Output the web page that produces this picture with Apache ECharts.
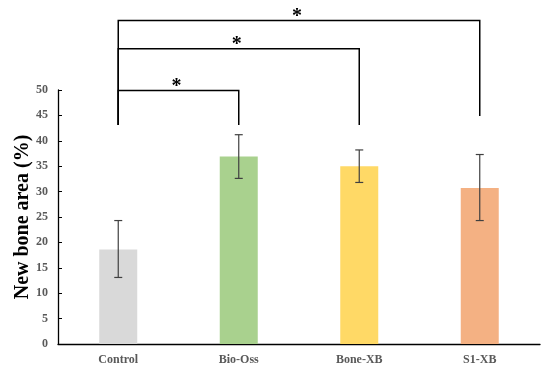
<!DOCTYPE html>
<html><head><meta charset="utf-8">
<script src="https://cdn.jsdelivr.net/npm/echarts@6/dist/echarts.min.js"></script>
<style>html,body{margin:0;padding:0;background:#fff}#c{width:550px;height:371px}</style>
</head><body><div id="c"></div>
<script>
const categories = ['Control', 'Bio-Oss', 'Bone-XB', 'S1-XB'];
const values = [18.6, 36.9, 35.0, 30.7];
const errLow = [13.1, 32.6, 31.8, 24.3];
const errHigh = [24.3, 41.2, 38.2, 37.3];
const barColors = ['#d9d9d9', '#a9d18e', '#ffd966', '#f4b183'];
// brackets: [fromIndex, toIndex, topLevel, leftFoot, rightFoot, label]
const brackets = [
  [0, 1, 49.9, 43.1, 43.1, '*'],
  [0, 2, 58.1, 43.1, 43.1, '*'],
  [0, 3, 63.7, 43.1, 44.9, '*']
];
const yTicks = [0, 50, 5];

const chart = echarts.init(document.getElementById('c'));
const serif = '"Liberation Serif", "Times New Roman", serif';
chart.setOption({
  animation: false,
  grid: {left: 58, right: 10, top: 90, bottom: 27, outerBoundsMode: 'none', containLabel: false},
  xAxis: {
    type: 'category', data: categories,
    axisLine: {lineStyle: {color: '#000', width: 1.3}},
    axisTick: {inside: true, length: 4, lineStyle: {color: '#000'}},
    axisLabel: {fontFamily: serif, fontWeight: 'bold', fontSize: 12, color: '#595959', margin: 10}
  },
  yAxis: {
    type: 'value', min: yTicks[0], max: yTicks[1], interval: yTicks[2],
    name: 'New bone area (%)', nameLocation: 'middle', nameGap: 25, nameMoveOverlap: false,
    nameTextStyle: {fontFamily: serif, fontWeight: 'bold', fontSize: 20, color: '#000'},
    axisLine: {show: true, lineStyle: {color: '#000', width: 1.3}},
    axisTick: {show: true, inside: true, length: 4, lineStyle: {color: '#000'}},
    splitLine: {show: false},
    axisLabel: {fontFamily: serif, fontWeight: 'bold', fontSize: 12, color: '#595959', margin: 10}
  },
  series: [
    {
      type: 'bar', barWidth: 38,
      data: values.map((v, i) => ({value: v, itemStyle: {color: barColors[i]}}))
    },
    {
      type: 'custom', z: 5,
      data: categories.map((c, i) => [i, errLow[i], errHigh[i]]),
      renderItem: function (params, api) {
        const lo = api.coord([api.value(0), api.value(1)]);
        const hi = api.coord([api.value(0), api.value(2)]);
        const w = 4;
        const st = {stroke: '#404040', lineWidth: 1.2};
        return {type: 'group', children: [
          {type: 'line', shape: {x1: hi[0], y1: hi[1], x2: lo[0], y2: lo[1]}, style: st},
          {type: 'line', shape: {x1: hi[0]-w, y1: hi[1], x2: hi[0]+w, y2: hi[1]}, style: st},
          {type: 'line', shape: {x1: lo[0]-w, y1: lo[1], x2: lo[0]+w, y2: lo[1]}, style: st}
        ]};
      }
    },
    {
      type: 'custom', z: 6, clip: false,
      data: brackets,
      renderItem: function (params, api) {
        const b = brackets[params.dataIndex];
        const a1 = api.coord([b[0], b[3]]);
        const t1 = api.coord([b[0], b[2]]);
        const t2 = api.coord([b[1], b[2]]);
        const a2 = api.coord([b[1], b[4]]);
        return {type: 'group', children: [
          {type: 'polyline', shape: {points: [a1, t1, t2, a2]},
           style: {stroke: '#000', lineWidth: 1.5, fill: null}},
          {type: 'text', style: {text: b[5], x: (t1[0] + t2[0]) / 2 - 2, y: t1[1] + 6,
            align: 'center', verticalAlign: 'bottom',
            font: 'bold 20px ' + serif, fill: '#000'}}
        ]};
      }
    }
  ]
});
</script></body></html>
